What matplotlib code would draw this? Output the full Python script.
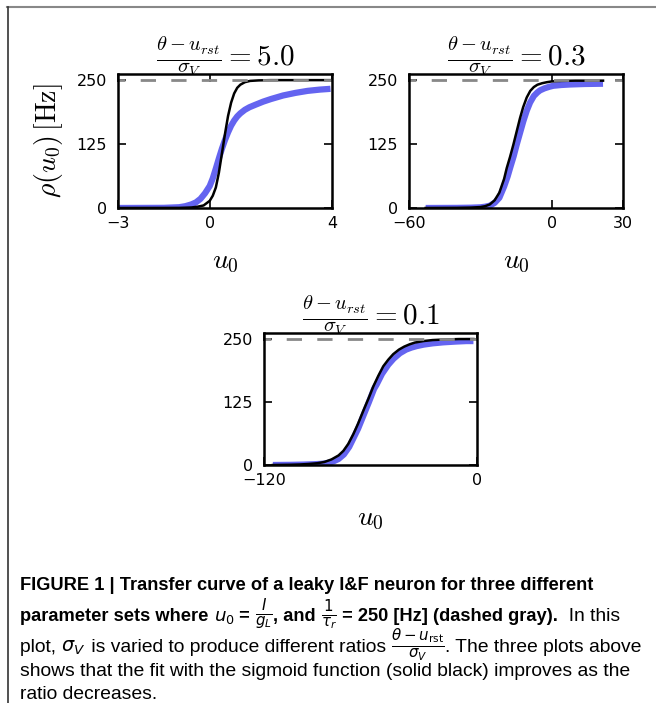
import matplotlib as mpl
mpl.use("Agg")
import matplotlib.pyplot as plt
from matplotlib.lines import Line2D

mpl.rcParams["mathtext.fontset"] = "cm"

# values, one set per panel
ratios = ["5.0", "0.3", "0.1"]
xlims = [(-3, 4), (-60, 30), (-120, 0)]
xticks = [[-3, 0, 4], [-60, 0, 30], [-120, 0]]
yticks = [0, 125, 250]
rate_max = 250

# blue: leaky I&F transfer curve, black: sigmoid fit
lif_x1 = [-3.0, -1.5, -1.0, -0.8, -0.6, -0.45, -0.3, -0.15, 0.0, 0.1, 0.2,
          0.3, 0.4, 0.5, 0.6, 0.7, 0.8, 0.9, 1.0, 1.15, 1.3, 1.5, 1.75, 2.0,
          2.4, 2.8, 3.2, 3.6, 3.95]
lif_y1 = [0, 0.3, 1.5, 3.5, 7, 11, 18, 29, 43, 58, 77, 97, 116, 133, 148,
          161, 171, 179, 185, 192, 197, 202, 208, 213, 220, 225, 229, 231.5, 233]
sig_x1 = [-3.0, -1.0, -0.6, -0.4, -0.2, 0.0, 0.1, 0.2, 0.3, 0.4, 0.5, 0.6,
          0.7, 0.8, 0.9, 1.0, 1.15, 1.32, 1.6, 2.0, 3.0, 4.0]
sig_y1 = [0, 0.2, 1, 2.5, 5, 14, 24, 40, 69, 107, 145, 180, 206, 224, 235,
          241, 246, 248.5, 249.5, 250, 250, 250]

lif_x2 = [-53, -40, -34, -30, -28, -26, -24, -22, -20, -18.5, -17.5, -16,
          -14.7, -13.3, -11.9, -10.5, -9.1, -7.5, -6, -4.9, -3, -1, 0.7, 4,
          7.7, 14, 21.6]
lif_y2 = [0, 0.2, 0.6, 1.3, 2.5, 4.5, 10, 20, 42, 62, 78, 101, 124, 147,
          170, 190, 206, 219, 226, 230, 234, 237, 239, 240.5, 241.5, 242.5, 243]
sig_x2 = [-53, -40, -34, -30, -28, -26, -24, -22, -20, -18.9, -17.5, -16.1,
          -14.7, -13.3, -12, -10.5, -9, -7.5, -6, -4, -2, 0, 4, 10, 21.6]
sig_y2 = [0, 0.3, 0.8, 1.8, 3.5, 7, 15, 30, 57, 78, 100, 124, 150, 176,
          197, 216, 229, 236.5, 241, 244, 246, 247.5, 248.5, 249, 249]

lif_x3 = [-115, -105, -98, -92, -88, -84.7, -81, -78, -75, -72, -69.5, -67,
          -64, -61, -58, -56.5, -53.5, -50, -47, -43.4, -40, -37, -34, -30,
          -25, -19, -12, -6, -2]
lif_y3 = [0, 0.3, 0.8, 1.5, 2.2, 3.5, 7, 12, 21, 36, 54, 72, 98, 124, 151,
          160, 181, 199, 211, 222, 229, 233, 236, 239, 241.5, 243.5, 245,
          246, 246]
sig_x3 = [-115, -105, -100, -95, -90, -86, -82, -78, -75.3, -72.5, -69.7,
          -67, -64, -61, -58.4, -55.6, -52.8, -50, -47.2, -44, -41, -38, -35,
          -30.2, -25, -19, -10, -2]
sig_y3 = [0, 0.5, 1, 2, 3.5, 6, 11, 19, 28, 42, 61, 82, 108, 133, 156, 177,
          196, 209, 220, 229, 235, 239.5, 243, 246, 248, 249, 250, 250]

lif_x = [lif_x1, lif_x2, lif_x3]
lif_y = [lif_y1, lif_y2, lif_y3]
sig_x = [sig_x1, sig_x2, sig_x3]
sig_y = [sig_y1, sig_y2, sig_y3]

W, H = 656, 703
fig = plt.figure(figsize=(W / 100, H / 100), dpi=100)

# axes boxes in pixels: left, top, right, bottom
boxes = [(118, 74, 332, 208), (409, 74, 623, 208), (264, 333, 477, 465)]

for i, (l, t, r, b) in enumerate(boxes):
    ax = fig.add_axes([l / W, 1 - b / H, (r - l) / W, (b - t) / H])
    ax.plot(lif_x[i], lif_y[i], color="#6464f0", lw=4.5, solid_capstyle="butt",
            solid_joinstyle="round")
    ax.plot(sig_x[i], sig_y[i], color="black", lw=1.8, solid_joinstyle="round")
    ax.axhline(rate_max, color="#888888", lw=2, ls=(3, (5.5, 5.5)))
    ax.set_xlim(*xlims[i])
    ax.set_ylim(0, 262)
    ax.set_xticks(xticks[i])
    ax.set_yticks(yticks)
    ax.set_xticklabels(["\u2212" + str(abs(v)) if v < 0 else str(v) for v in xticks[i]])
    ax.tick_params(direction="in", length=6, width=1.2, top=True, right=True,
                   labelsize=11.5)
    ax.tick_params(axis="x", pad=6)
    ax.tick_params(axis="y", pad=8)
    for sp in ax.spines.values():
        sp.set_linewidth(1.8)
    ax.set_title(r"$\frac{\theta - u_{rst}}{\sigma_V} = %s$" % ratios[i],
                 fontsize=21, pad=6)
    ax.set_xlabel(r"$u_0$", fontsize=20, labelpad=11)
    if i == 0:
        ax.set_ylabel(r"$\rho(u_0)\,[\mathrm{Hz}]$", fontsize=20, labelpad=8)

# frame lines of the journal figure
fig.add_artist(Line2D([7 / W, 1], [1 - 7 / H, 1 - 7 / H], color="#888888", lw=1.5,
                      transform=fig.transFigure))
fig.add_artist(Line2D([7.5 / W, 7.5 / W], [0, 1 - 7 / H], color="#333333", lw=1.2,
                      transform=fig.transFigure))

# caption, assembled piece by piece
fam = ["Liberation Sans Narrow", "Liberation Sans", "DejaVu Sans"]
renderer = fig.canvas.get_renderer()


def put_line(y, pieces, x0=20):
    x = x0
    for txt, bold in pieces:
        size = 13.15 if bold else 13.85
        if txt.startswith("$") and "frac" in txt:
            size = 15.5
        t = fig.text(x / W, 1 - y / H, txt, fontweight="bold" if bold else "normal",
                     fontsize=size, family=fam,
                     math_fontfamily="dejavusans", va="baseline", ha="left")
        bb = t.get_window_extent(renderer)
        x += bb.width


put_line(590, [("FIGURE 1 | Transfer curve of a leaky I&F neuron for three different", True)])
put_line(621, [("parameter sets where ", True),
               (r"$\boldsymbol{u_0}$", True),
               (" = ", True),
               (r"$\boldsymbol{\frac{I}{g_L}}$", True),
               (", and ", True),
               (r"$\boldsymbol{\frac{1}{\tau_r}}$", True),
               (" = 250 [Hz] (dashed gray).", True),
               ("  In this", False)])
put_line(652, [("plot, ", False), (r"$\sigma_V$", False),
               (" is varied to produce different ratios ", False),
               (r"$\frac{\theta - u_{\mathrm{rst}}}{\sigma_V}$", False),
               (". The three plots above", False)])
put_line(676, [("shows that the fit with the sigmoid function (solid black) improves as the", False)])
put_line(699, [("ratio decreases.", False)])

fig.savefig("out.png", dpi=100)
